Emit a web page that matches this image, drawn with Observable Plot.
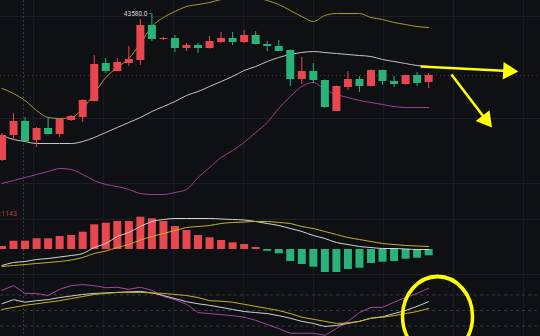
<!DOCTYPE html>
<html><head><meta charset="utf-8">
<script src="https://cdn.jsdelivr.net/npm/d3@7"></script>
<script src="https://cdn.jsdelivr.net/npm/@observablehq/plot@0.6"></script>
<style>
html,body{margin:0;padding:0;background:#0f1014;}
#chart{width:540px;height:336px;overflow:hidden;position:relative;background:#0f1014;font-family:Roboto,"DejaVu Sans",sans-serif;}
#chart svg{display:block;}
</style></head><body><div id="chart"></div>
<script>
// ---- candles (4H), index 0..37 ----
const candleIndex = [0,1,2,3,4,5,6,7,8,9,10,11,12,13,14,15,16,17,18,19,20,21,22,23,24,25,26,27,28,29,30,31,32,33,34,35,36,37];
const open  = [42110,42360,42500,42310,42430,42370,42510,42540,42700,43080,43000,43080,43110,43460,43320,43330,43230,43260,43230,43290,43330,43290,43360,43270,43250,43210,42920,43000,42910,42600,42840,42920,42850,43010,42900,42870,42960,42890];
const close = [42360,42500,42300,42430,42370,42520,42550,42710,43070,43000,43090,43120,43460,43320,43330,43230,43260,43230,43300,43330,43290,43360,43270,43250,43200,42920,43000,42910,42640,42850,42920,42850,43010,42900,42870,42960,42880,42960];
const high  = [42380,42580,42540,42440,42530,42520,42560,42720,43160,43130,43130,43250,43520,43580,43340,43360,43280,43280,43350,43390,43390,43410,43400,43300,43310,43215,43140,43080,42915,42855,43000,42950,43015,43015,42950,42965,42990,42980];
const low   = [42100,42310,42290,42240,42365,42340,42500,42490,42695,42980,43000,43050,43060,43300,43310,43190,43200,43180,43225,43280,43260,43280,43265,43200,43200,42850,42870,42880,42630,42600,42810,42790,42845,42860,42840,42865,42850,42830];
// ---- Bollinger bands ----
const bollUpper = [42830,42780,42710,42610,42540,42530,42540,42630,42780,42940,43040,43130,43280,43450,43540,43600,43650,43670,43690,43720,43740,43750,43740,43710,43670,43610,43550,43500,43560,43580,43580,43580,43540,43520,43490,43470,43450,43440];
const bollMid   = [42360,42320,42300,42280,42280,42280,42280,42300,42340,42390,42440,42490,42540,42600,42650,42700,42760,42800,42850,42900,42950,43010,43050,43100,43140,43170,43190,43200,43190,43180,43170,43160,43150,43120,43100,43080,43060,43050];
const bollLower = [41880,41910,41940,41970,42000,42030,42020,41970,41910,41870,41850,41820,41780,41770,41770,41790,41820,41940,42040,42140,42210,42290,42390,42490,42630,42750,42850,42890,42820,42770,42740,42710,42690,42670,42650,42640,42640,42640];
// ---- MACD ----
const macdHist = [30,83,83,107,107,130,140,173,247,263,280,280,323,307,280,230,190,140,117,90,67,50,20,-18,-43,-120,-150,-177,-230,-230,-200,-187,-140,-127,-120,-97,-87,-63];
const macdDif  = [-160,-130,-120,-100,-90,-75,-60,-40,20,60,130,170,230,280,300,310,310,310,310,305,300,295,280,260,240,210,180,140,110,70,50,30,20,10,10,5,0,0];
const macdDea  = [-170,-160,-150,-140,-130,-120,-105,-80,-40,-15,20,50,95,130,160,190,220,230,240,260,270,275,280,280,270,260,230,210,180,150,120,100,80,60,50,40,35,30];
// ---- KDJ ----
const kdjK = [63,71,66,69,71,75,78,81,83,84,85,86,87,84,79,73,67,63,60,56,52,48,46,44,40,35,29,25,19,21,25,29,35,38,44,50,58,67];
const kdjD = [52,56,60,63,66,69,73,77,81,83,85,85,85,84,83,81,79,75,69,68,66,62,58,54,50,44,37,33,29,25,26,29,35,37,40,44,48,54];
const kdjJ = [89,98,83,83,79,91,98,100,98,94,95,91,95,89,77,71,62,46,44,42,40,37,31,23,15,6,6,6,2,15,29,46,56,56,66,75,83,93];
// ---- labels / reference levels ----
const highLabel = "43580.0 -";
const macdLabel = ":1143";
const lastPrice = 42960;
const mainGridPrices = [43550, 42530, 41880];
const macdGridValues = [300, -250];
const kdjLevels = [80, 50, 20];
const timeGridIndex = [2.75, 8.82, 14.89, 20.96, 27.03, 33.1, 39.17, 45.24];
const crossIndex = [1.86];
// ---- yellow annotations (index, price / KDJ value) ----
const arrowFromX = [36.3, 38.98];
const arrowFromY = [43050, 42970];
const arrowToX   = [43.9, 41.95];
const arrowToY   = [43005, 42520];
const arrowAngle = [93, 142];
const circleX = [37.77];
const circleY = [38.4];

const RED = "#e9474f", GREEN = "#27b37a", GRID = "#1c1f25";
const rows = candleIndex.map(i => ({i, o: open[i], c: close[i], h: high[i], l: low[i],
  up: bollUpper[i], mid: bollMid[i], lo: bollLower[i],
  hist: macdHist[i], dif: macdDif[i], dea: macdDea[i], k: kdjK[i], d: kdjD[i], j: kdjJ[i]}));
const arrows = arrowFromX.map((x, n) => ({x1: x, y1: arrowFromY[n], x2: arrowToX[n], y2: arrowToY[n], a: arrowAngle[n]}));
const circles = circleX.map((x, n) => ({x, y: circleY[n]}));

const X = {domain: [-0.13, 46.7], axis: null};
const common = {width: 540, margin: 0, x: X, color: {type: "identity"},
  style: {background: "transparent", overflow: "visible", fontFamily: "Roboto, sans-serif"}};
const candleColor = d => d.c >= d.o ? RED : GREEN;

const main = Plot.plot({...common, height: 205,
  y: {domain: [41660, 43710], axis: null},
  marks: [
    Plot.ruleY(mainGridPrices, {stroke: GRID}),
    Plot.ruleX(timeGridIndex, {stroke: GRID}),
    Plot.ruleX(crossIndex, {stroke: "#3b3e45", strokeDasharray: "2,2"}),
    Plot.ruleY([lastPrice], {stroke: RED, strokeOpacity: 0.45, strokeDasharray: "1,3"}),
    Plot.line(rows, {x: "i", y: "up", stroke: "#a89a2a", strokeWidth: 1, curve: "monotone-x"}),
    Plot.line(rows, {x: "i", y: "mid", stroke: "#c4c4c4", strokeWidth: 1, curve: "monotone-x"}),
    Plot.line(rows, {x: "i", y: "lo", stroke: "#9c4293", strokeWidth: 1, curve: "monotone-x"}),
    Plot.ruleX(rows, {x: "i", y1: "l", y2: "h", stroke: candleColor, strokeWidth: 1}),
    Plot.ruleX(rows, {x: "i", y1: "o", y2: "c", stroke: candleColor, strokeWidth: 8}),
    Plot.text([highLabel], {x: () => 13, y: () => 43580, dx: -1, textAnchor: "end", fill: "#d8d8d8", fontSize: 6.5}),
    Plot.link(arrows, {x1: "x1", y1: "y1", x2: "x2", y2: "y2", stroke: "#ffff00", strokeWidth: 2.6}),
    Plot.dot(arrows, {x: "x2", y: "y2", symbol: "triangle", rotate: "a", r: 6.5, fill: "#ffff00", stroke: "none"})
  ]});

const macd = Plot.plot({...common, height: 75,
  y: {domain: [-310, 440], axis: null},
  marks: [
    Plot.ruleY(macdGridValues, {stroke: GRID}),
    Plot.ruleX(timeGridIndex, {stroke: GRID}),
    Plot.ruleX(crossIndex, {stroke: "#3b3e45", strokeDasharray: "2,2"}),
    Plot.ruleX(rows, {x: "i", y1: 0, y2: "hist", stroke: d => d.hist >= 0 ? RED : GREEN, strokeWidth: 8}),
    Plot.line(rows, {x: "i", y: "dif", stroke: "#d6d6d6", strokeWidth: 1, curve: "monotone-x"}),
    Plot.line(rows, {x: "i", y: "dea", stroke: "#c6b22c", strokeWidth: 1, curve: "monotone-x"}),
    Plot.text([macdLabel], {frameAnchor: "top-left", dy: 6, dx: -1, textAnchor: "start", fill: "#b8443f", fontSize: 7})
  ]});

const kdj = Plot.plot({...common, height: 56,
  y: {domain: [-0.3, 108], axis: null},
  marks: [
    Plot.ruleX(timeGridIndex, {stroke: GRID}),
    Plot.ruleX(crossIndex, {stroke: "#3b3e45", strokeDasharray: "2,2"}),
    Plot.ruleY(kdjLevels, {stroke: "#3a3d44", strokeDasharray: "3,3"}),
    Plot.line(rows, {x: "i", y: "j", stroke: "#a8449d", strokeWidth: 1}),
    Plot.line(rows, {x: "i", y: "k", stroke: "#cfcfcf", strokeWidth: 1}),
    Plot.line(rows, {x: "i", y: "d", stroke: "#c6b22c", strokeWidth: 1}),
    Plot.dot(circles, {x: "x", y: "y", r: 35, stroke: "#ffff00", strokeWidth: 3.5, fill: "none"})
  ]});
// stretch the annotation circle vertically into an ellipse
d3.select(kdj).selectAll("circle").each(function() {
  const c = d3.select(this), cx = +c.attr("cx") || 0, cy = +c.attr("cy") || 0;
  c.attr("transform", `translate(${cx},${cy}) scale(1,1.14) translate(${-cx},${-cy})`);
});

const root = document.getElementById("chart");
root.append(main, macd, kdj);
</script></body></html>
